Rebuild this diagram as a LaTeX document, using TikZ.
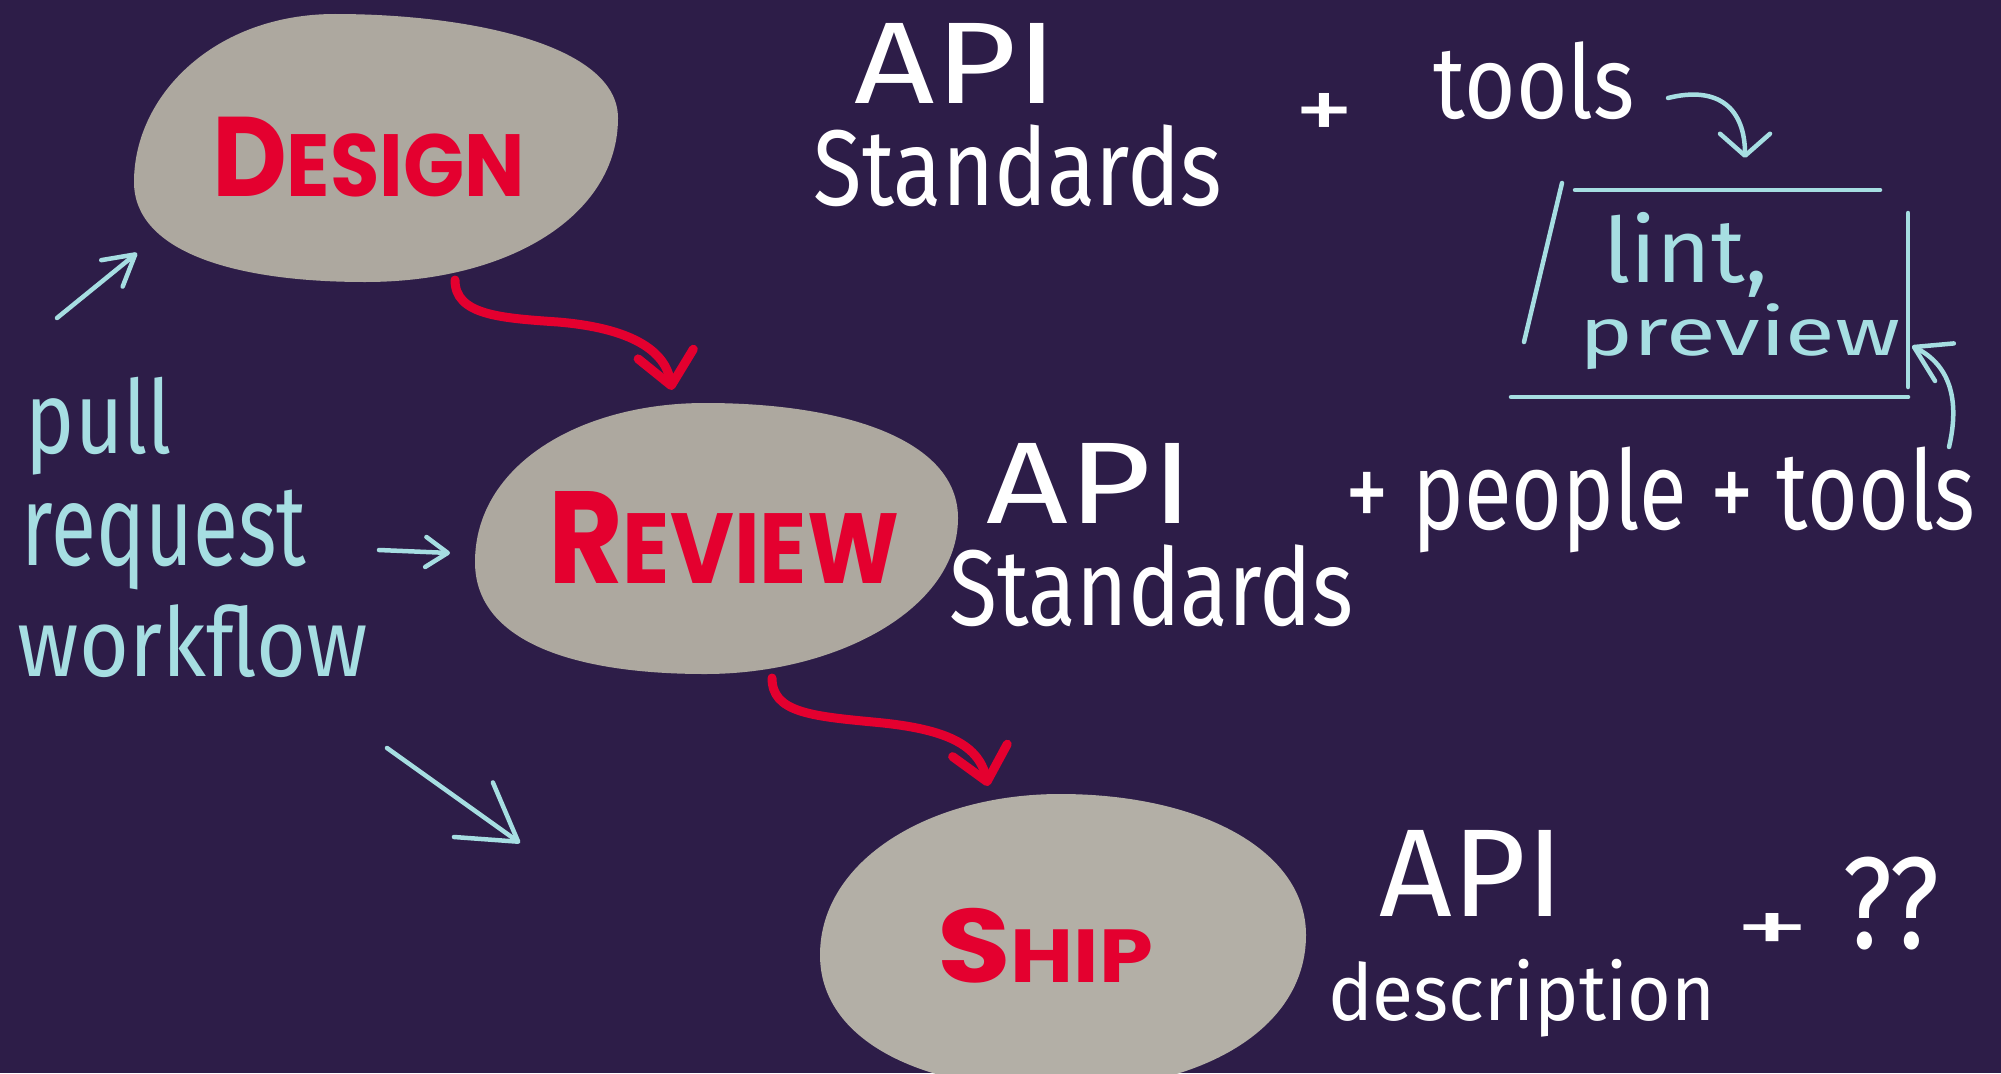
\documentclass[tikz,border=0pt]{standalone}
\usepackage{fontspec}
\setmainfont{Poppins}
\newfontfamily\handfont{Fira Sans}
\usepackage{graphicx}
\usetikzlibrary{arrows.meta}
\definecolor{bgc}{HTML}{2D1D48}
\definecolor{blobc}{HTML}{ADA89F}
\definecolor{blobl}{HTML}{B3AFA6}
\definecolor{redc}{HTML}{E4002F}
\definecolor{cyanc}{HTML}{A6DEE2}
\newcommand{\fitto}[3]{\resizebox*{#1pt}{#2pt}{#3}}
\begin{document}
\begin{tikzpicture}[x=1pt,y=-1pt,
  blob/.style={fill=blobc},
  wtxt/.style={text=white, inner sep=0pt, font=\handfont},
  ctxt/.style={text=cyanc, inner sep=0pt, font=\handfont},
  rtxt/.style={text=redc, inner sep=0pt, font=\bfseries},
  redarrow/.style={draw=redc, line width=9pt, line cap=round, line join=round,
    -{Straight Barb[length=32pt,width=56pt,round]}},
  cyanarrow/.style={draw=cyanc, line width=4.5pt, line cap=round, line join=round},
  cyanline/.style={draw=cyanc, line width=4.5pt, line cap=round},
]
\fill[bgc] (0,0) rectangle (2001,1073);
\useasboundingbox (0,0) rectangle (2001,1073);

% blobs (left, top, right, bottom extremes joined by smooth curves)
\fill[blob] (134,182) .. controls (134,95) and (215,14) .. (335,14)
  .. controls (470,14) and (618,45) .. (618,118)
  .. controls (618,215) and (510,282) .. (365,282)
  .. controls (230,282) and (134,250) .. cycle;
\fill[blob] (475,562) .. controls (475,465) and (580,403) .. (705,403)
  .. controls (845,403) and (958,440) .. (958,518)
  .. controls (958,610) and (835,674) .. (705,674)
  .. controls (570,674) and (475,640) .. cycle;
\fill[blobl] (820,955) .. controls (820,860) and (930,794) .. (1060,794)
  .. controls (1200,794) and (1306,850) .. (1306,935)
  .. controls (1306,1030) and (1200,1090) .. (1060,1090)
  .. controls (920,1090) and (820,1040) .. cycle;

% red labels
\node[rtxt] (design) at (368.5,157) {\fitto{313}{80}{\fontsize{100}{100}\selectfont D\fontsize{78}{78}\selectfont ESIGN}};
\node[rtxt] (review) at (723.5,537) {\fitto{351}{92}{\fontsize{100}{100}\selectfont R\fontsize{76}{76}\selectfont EVIEW}};
\node[rtxt] (ship) at (1045,945.5) {\fitto{216}{75}{\fontsize{100}{100}\selectfont S\fontsize{72}{72}\selectfont HIP}};

% red arrows
\coordinate (dsgOut) at (455,280);
\coordinate (revIn) at (672,390);
\coordinate (revOut) at (772,678);
\coordinate (shipIn) at (988,786);
\draw[redarrow] (dsgOut) .. controls (455,315) and (500,318) .. (558,322) .. controls (630,328) and (665,350) .. (revIn);
\draw[redarrow] (revOut) .. controls (772,712) and (810,716) .. (873,722) .. controls (940,728) and (978,742) .. (shipIn);

% white texts
\node[wtxt] (api1) at (956.5,63) {\fitto{203}{80}{API}};
\node[wtxt] (std1) at (1018,166) {\fitto{408}{82}{Standards}};
\node[wtxt] (plus1) at (1324,116.5) {\fitto{60}{47}{+}};
\node[wtxt] (tools1) at (1534.5,81) {\fitto{201}{78}{tools}};
\node[wtxt] (api2) at (1090.5,483) {\fitto{207}{80}{API}};
\node[wtxt] (std2) at (1151.5,586) {\fitto{403}{82}{Standards}};
\node[wtxt] (ppl) at (1660.5,500) {\fitto{629}{106}{+ people + tools}};
\node[wtxt] (api3) at (1472,873) {\fitto{184}{86}{API}};
\node[wtxt] (desc) at (1521.5,998) {\fitto{387}{78}{description}};
\node[wtxt] (plus3) at (1773,933) {\fitto{76}{39}{+}};
\node[wtxt] (qq) at (1891,903.5) {\fitto{96}{93}{??}};

% cyan box
\draw[cyanline] (1575,190) -- (1880,190);
\draw[cyanline] (1562,183) -- (1524,342);
\draw[cyanline] (1908,213) -- (1908,387);
\draw[cyanline] (1511,397) -- (1908,397);
\node[ctxt] (lint) at (1685.5,254.5) {\fitto{165}{85}{lint,}};
\node[ctxt] (preview) at (1740,337) {\fitto{320}{66}{preview}};

% cyan texts
\node[ctxt] (pull) at (99,426) {\fitto{146}{98}{pull}};
\node[ctxt] (request) at (164,540) {\fitto{284}{100}{request}};
\node[ctxt] (workflow) at (193,641.5) {\fitto{350}{73}{workflow}};

% cyan arrows
\coordinate (tlA) at (1668,98);
\coordinate (bxT) at (1745,158);
\draw[cyanarrow, -{Straight Barb[length=22pt,width=50pt,round]}] (tlA) .. controls (1720,85) and (1745,110) .. (bxT);
\coordinate (tlB) at (1949,447);
\coordinate (bxR) at (1912,346);
\draw[cyanarrow, -{Straight Barb[length=34pt,width=42pt,round]}] (tlB) .. controls (1960,400) and (1950,365) .. (bxR);
\coordinate (prA) at (57,318);
\coordinate (dsgIn) at (137,253);
\draw[cyanarrow, -{Straight Barb[length=30pt,width=34pt,round]}] (prA) -- (dsgIn);
\coordinate (prB) at (379,550);
\coordinate (revL) at (450,553);
\draw[cyanarrow, -{Straight Barb[length=22pt,width=30pt,round]}] (prB) -- (revL);
\coordinate (prC) at (387,748);
\coordinate (shipL) at (520,843);
\draw[cyanarrow, -{Straight Barb[length=55pt,width=67pt,round]}] (prC) -- (shipL);
\end{tikzpicture}
\end{document}
